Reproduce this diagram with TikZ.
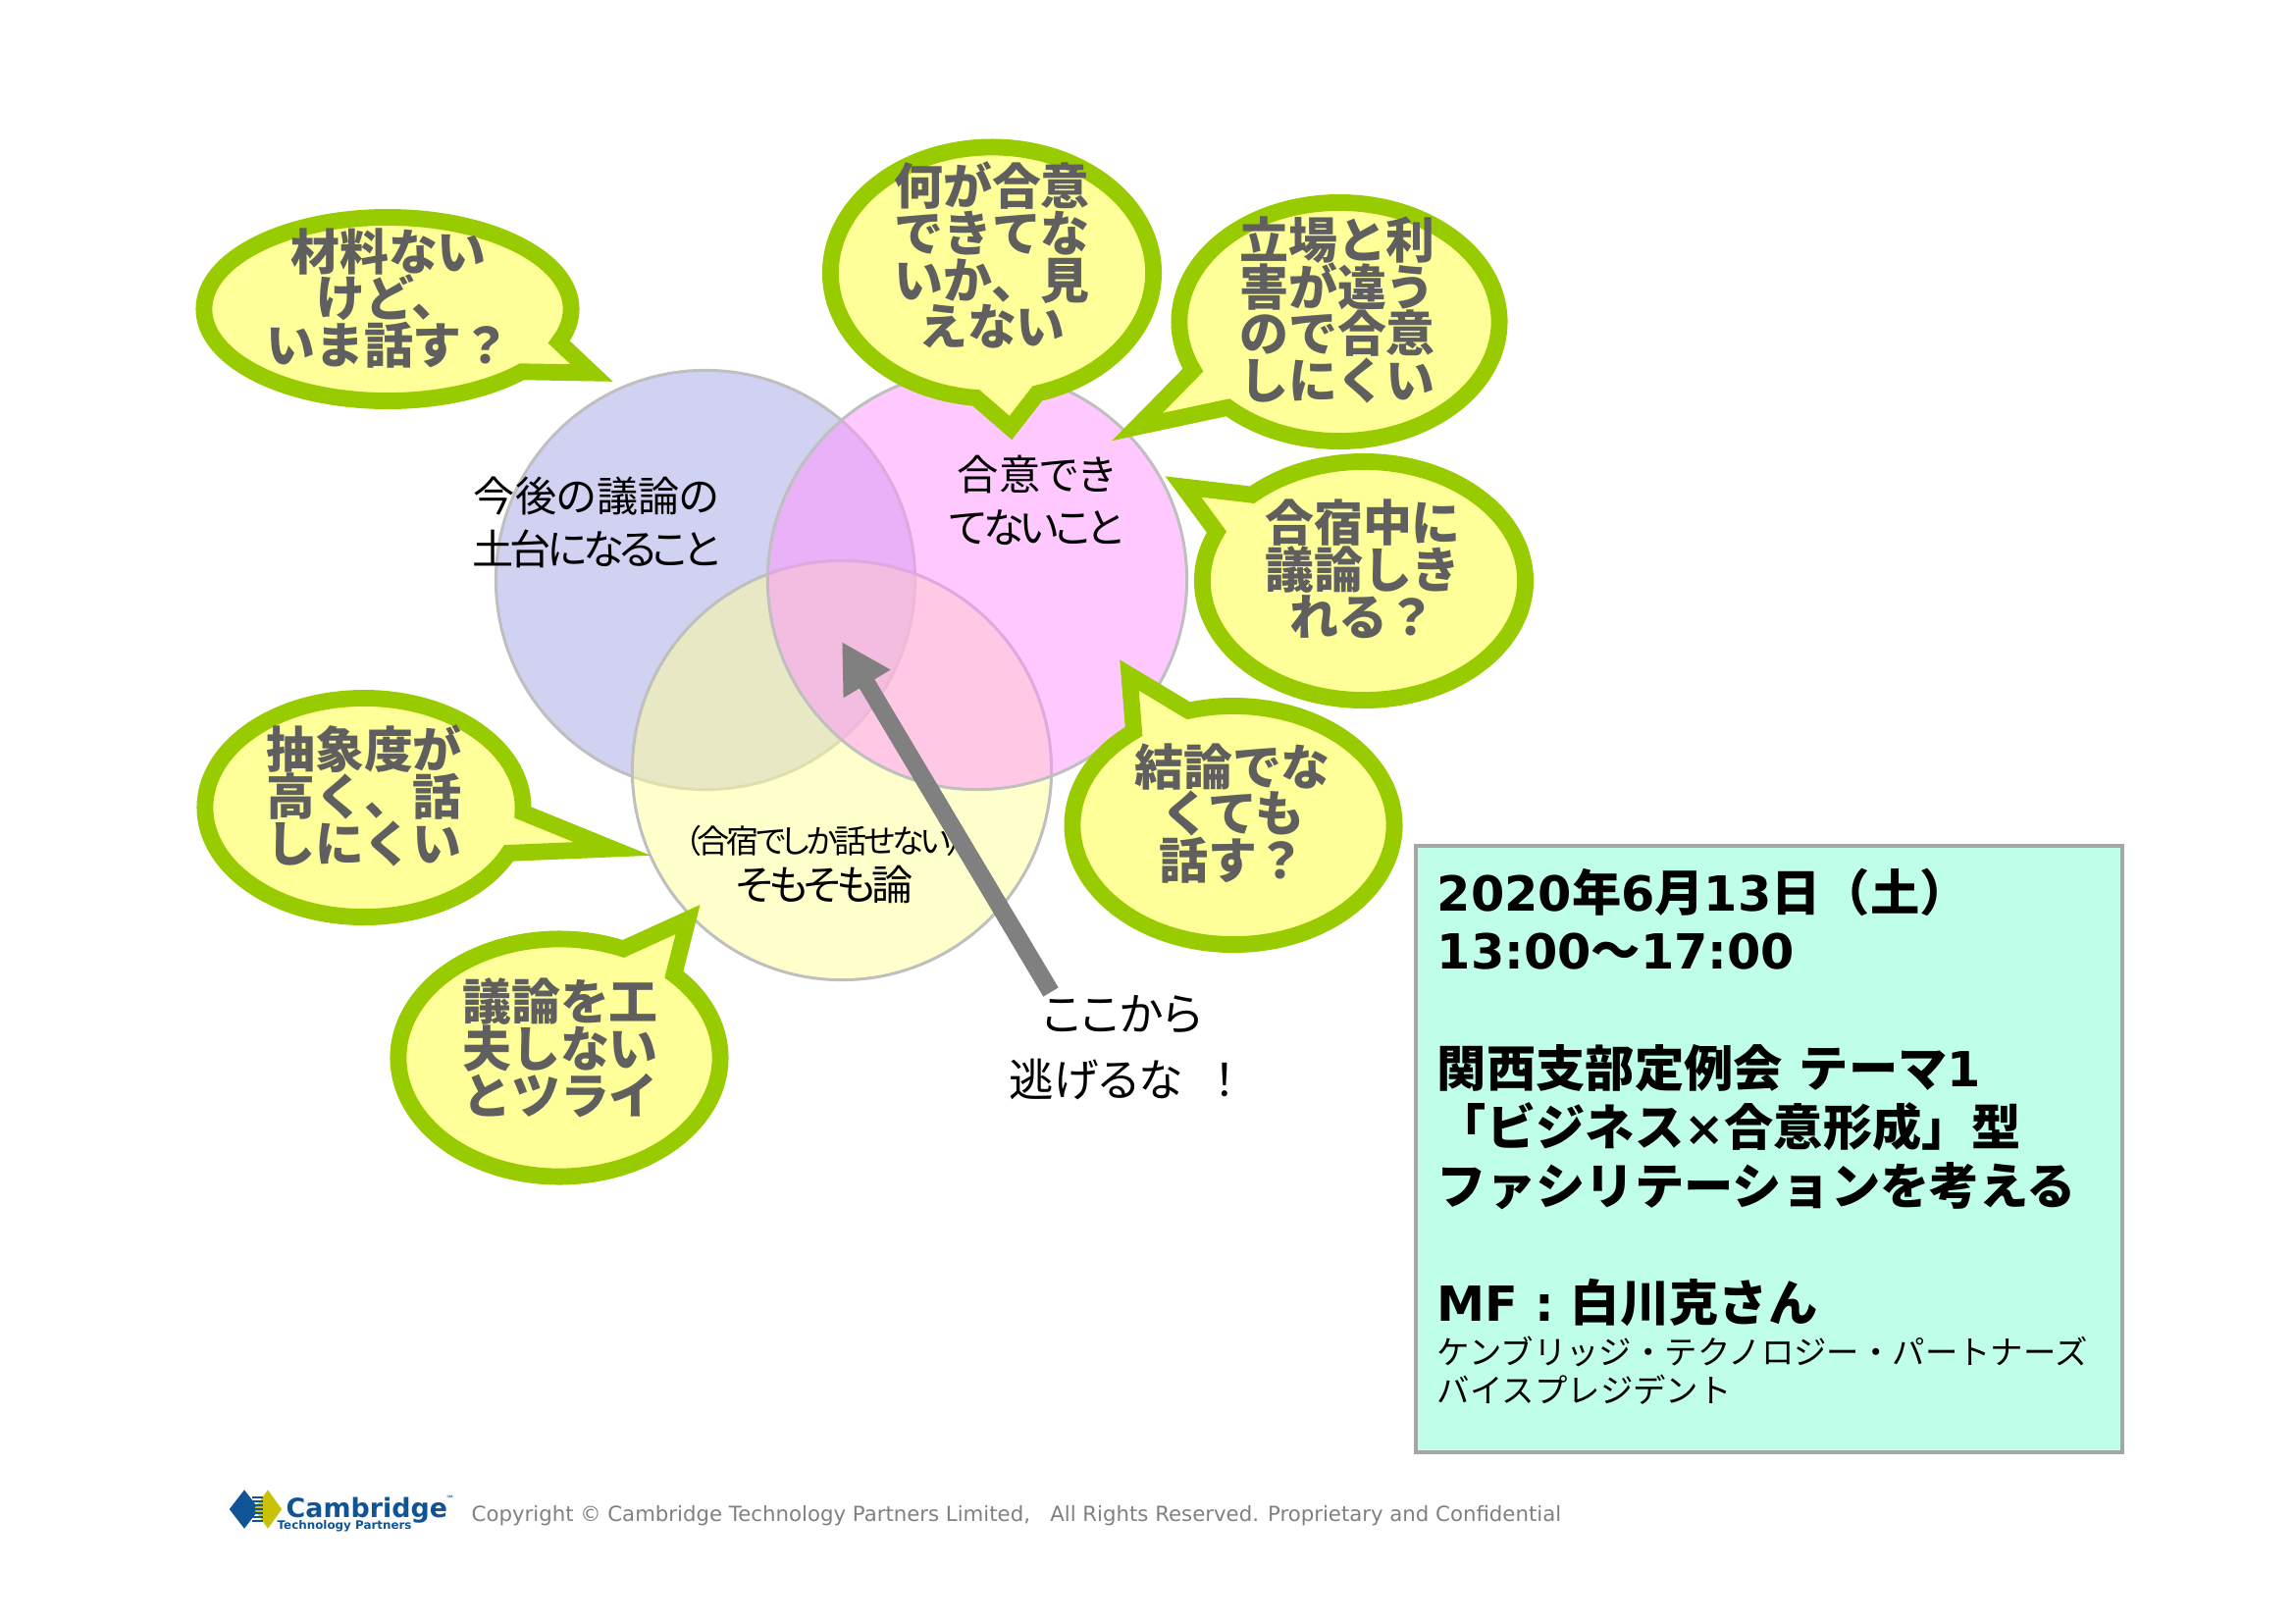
\documentclass[tikz,border=0pt]{standalone}
\usepackage{fontspec}
\setmainfont{Noto Sans CJK JP}
\newfontfamily\paltfont{Noto Sans CJK JP}[RawFeature=+palt]
\newfontfamily\tightfont{Noto Sans CJK JP}[RawFeature=+palt, LetterSpace=-10]
\newfontfamily\latinfont{DejaVu Sans}[Scale=0.98]
\usetikzlibrary{shapes.geometric, shapes.callouts, arrows.meta, positioning}
\definecolor{bubbleline}{HTML}{99CC00}
\definecolor{bubblefill}{HTML}{FFFF99}
\definecolor{bubbletext}{HTML}{5F5F5F}
\definecolor{setblue}{HTML}{A3A3E5}
\definecolor{setpink}{HTML}{FF93FF}
\definecolor{setyellow}{HTML}{FFFF99}
\definecolor{infofill}{HTML}{BFFFEA}
\definecolor{logoblue}{HTML}{0F5596}
\definecolor{logoyellow}{HTML}{C9C20A}
\normallineskiplimit=-30pt
\lineskiplimit=-30pt
\newcommand{\smallinfo}{\fontsize{9.5pt}{11pt}\selectfont\mdseries}

\begin{document}
\begin{tikzpicture}[
  x=0.01cm, y=-0.01cm,
  >=Stealth,
  vennset/.style={
    circle, draw=black!25, line width=0.85pt, minimum size=4.27cm,
    fill opacity=0.5, inner sep=0pt
  },
  vennlabel/.style={
    align=center, font=\fontsize{12pt}{15.3pt}\selectfont\paltfont
  },
  bubble/.style={
    ellipse callout, draw=bubbleline, line width=4.8pt, fill=bubblefill,
    callout pointer arc=22, inner sep=0pt, outer sep=0pt
  },
  bubblelabel/.style={
    align=center, text=bubbletext, inner sep=0pt,
    font=\fontsize{14.2pt}{13.6pt}\selectfont\bfseries
  },
  infobox/.style={
    rectangle, draw=black!35, line width=1.1pt, fill=infofill, anchor=north west,
    minimum width=7.2cm, minimum height=6.18cm, text width=6.76cm,
    inner xsep=0.22cm, inner ysep=0pt, align=left,
    font=\fontsize{14.3pt}{17pt}\selectfont\bfseries
  },
  pointer/.style={
    -{Triangle[length=14.2pt,width=14.8pt]}, line width=5.1pt, draw=black!50
  },
  footer/.style={
    text=black!50, font=\fontsize{6.17pt}{7pt}\selectfont\latinfont
  }
]
\useasboundingbox (0,0) rectangle (2339,1654);

% Venn circles
\node[vennset, fill=setblue] (blueset) at (719,591) {};
\node[vennset, fill=setyellow] (yellowset) at (858,785) {};
\node[vennset, fill=setpink] (pinkset) at (996,591) {};

% Venn labels
\node[vennlabel] (basis) at (608,532) {今後の議論の\\{\tightfont 土台になること}};
\node[vennlabel] (noagree) at (1056,510) {合意でき\\{\tightfont てないこと}};
\node[vennlabel, font=\fontsize{9.4pt}{13.6pt}\selectfont\tightfont] (camp) at (840,881) {（合宿でしか話せない）\\\fontsize{12pt}{13.6pt}\selectfont そもそも論};

% Speech bubbles
\node[bubble, minimum width=3.74cm, minimum height=1.87cm, callout absolute pointer={(603,380)}] (material) at (395,315) {};
\node[bubble, minimum width=3.29cm, minimum height=2.56cm, callout absolute pointer={(1030,436)}] (whatagree) at (1011,278) {};
\node[bubble, minimum width=3.26cm, minimum height=2.43cm, callout absolute pointer={(1159,435)}] (position) at (1365,328) {};
\node[bubble, minimum width=3.29cm, minimum height=2.43cm, callout absolute pointer={(1206,496)}] (camptime) at (1390,592) {};
\node[bubble, minimum width=3.28cm, minimum height=2.43cm, callout absolute pointer={(1151,688)}] (noresult) at (1257,841) {};
\node[bubble, minimum width=3.24cm, minimum height=2.23cm, callout absolute pointer={(624,865)}] (abstract) at (371,823) {};
\node[bubble, minimum width=3.28cm, minimum height=2.42cm, callout absolute pointer={(701,937)}] (craft) at (570,1078) {};

% Bubble texts
\node[bubblelabel] (materialtext) at (396,304) {材料ない\\けど、\\いま話す？};
\node[bubblelabel] (whatagreetext) at (1011,260) {何が合意\\できてな\\いか、見\\えない};
\node[bubblelabel] (positiontext) at (1363,316) {立場と利\\害が違う\\ので合意\\しにくい};
\node[bubblelabel] (camptimetext) at (1389,580) {合宿中に\\議論しき\\れる？};
\node[bubblelabel] (noresulttext) at (1256,829) {結論でな\\くても\\話す？};
\node[bubblelabel] (abstracttext) at (371,811) {抽象度が\\高く、話\\しにくい};
\node[bubblelabel] (crafttext) at (571,1068) {議論を工\\夫しない\\とツライ};

% Pointer into the middle
\node[vennlabel, font=\fontsize{13pt}{19pt}\selectfont\paltfont] (escape) at (1144,1068) {ここから\\逃げるな\hspace{9pt}！};
\coordinate (pointerbase) at (1071,1011);
\coordinate (pointertip) at (858,654);
\draw[pointer] (pointerbase) -- (pointertip);

% Info box
\node[infobox] (info) at (1441,860) {%
{\latinfont 2020}年{\latinfont 6}月{\latinfont 13}日（土）\\
{\latinfont 13:00}～{\latinfont 17:00}\\
~\\
関西支部定例会 テーマ{\latinfont 1}\\
「ビジネス{\latinfont ×}合意形成」型\\
ファシリテーションを考える\\
~\\
{\latinfont MF : }白川克さん\\[-4.5pt]
{\smallinfo ケンブリッジ・テクノロジー・パートナーズ}\\[-6pt]
{\smallinfo バイスプレジデント}\\[-9pt]
~};

% Footer logo
\node[diamond, fill=logoblue, minimum width=0.31cm, minimum height=0.4cm, inner sep=0pt] (logoleft) at (249,1538) {};
\node[diamond, fill=logoyellow, minimum width=0.29cm, minimum height=0.4cm, inner sep=0pt] (logoright) at (273,1538) {};
\foreach \i in {-3,...,3} {
  \draw[logoblue, line width=0.5pt] (257,1538+\i*4) -- (268,1538+\i*4);
}
\node[anchor=west, inner sep=0pt, text=logoblue, font=\fontsize{7.8pt}{9pt}\selectfont\latinfont\bfseries] (logoname) at (291,1539) {Cambridge};
\node[inner sep=0pt, text=logoblue, font=\fontsize{2.5pt}{3pt}\selectfont\latinfont] (logosm) at (459,1527) {℠};
\node[anchor=west, inner sep=0pt, text=logoblue, font=\fontsize{3.45pt}{4pt}\selectfont\latinfont\bfseries] (logosub) at (282,1555) {Technology Partners};

% Copyright line
\node[footer, anchor=west, inner sep=0pt] (copyright) at (480,1545) {Copyright © Cambridge Technology Partners Limited,\ \ \ All Rights Reserved. Proprietary and Confidential};
\end{tikzpicture}
\end{document}
